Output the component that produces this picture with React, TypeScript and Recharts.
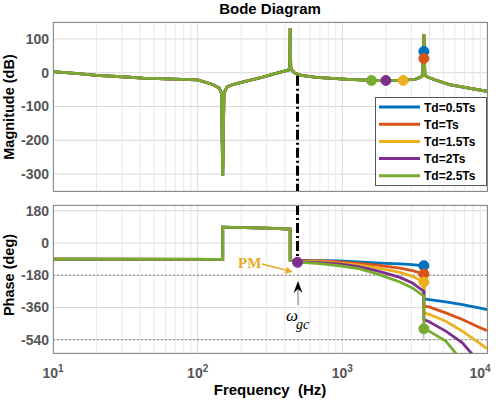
import { LineChart, Line, XAxis, YAxis, CartesianGrid, ReferenceLine, ReferenceDot } from 'recharts'

// series
const SERIES = ['Td=0.5Ts', 'Td=Ts', 'Td=1.5Ts', 'Td=2Ts', 'Td=2.5Ts']
const COLORS = ['#0072BD', '#D95319', '#EDB120', '#7E2F8E', '#77AC30']

// magnitude (same for every delay)
const magFreq = [10, 15, 20, 30, 42, 60, 100, 127, 141, 146, 149, 152, 160, 175, 217, 282, 368, 425, 433, 436, 440, 447, 470, 520, 660, 1100, 1590, 2000, 2630, 3200, 3450, 3600, 3660, 3720, 3850, 4300, 5500, 7500, 10000]
const magDb = [3, -3, -8, -12, -16, -18, -21, -35, -45, -60, -305, -60, -42, -35, -25, -13, 1, 8, 18, 132, 16, 8, -2, -8, -14, -20, -23, -23, -23, -19, -14, -8, 113, -8, -12, -20, -35, -46, -55]

// phase: shared part up to the crossover, then one tail per delay
const phaseFreqBase = [10, 149, 149, 300, 436, 436]
const phaseBase = [-90, -91, 88, 83, 78, -96]
const phaseFreqTail = [490, 700, 950, 1300, 1800, 2500, 3050, 3660, 3660, 3980, 5190, 6760, 8810, 10000]
const phaseTd05 = [-97, -98, -100, -106, -112, -117, -121, -127, -312, -316, -329, -344, -362, -372]
const phaseTd1 = [-99, -100, -106, -114, -125, -140, -154, -173, -353, -357, -390, -427, -470, -489]
const phaseTd15 = [-101, -104, -112, -123, -140, -164, -186, -218, -390, -398, -437, -492, -557, -589]
const phaseTd2 = [-104, -110, -117, -132, -158, -192, -223, -270, -427, -440, -492, -557, -665, -700]
const phaseTd25 = [-107, -115, -127, -143, -177, -218, -251, -297, -479, -492, -548, -660, -780, -840]

// markers (per series, in SERIES order)
const magMarkFreq = [3660, 3660, 2630, 2000, 1590]
const magMarkDb = [63, 42, -23, -23, -23]
const phaseMarkFreq = [3660, 3660, 3660, 490, 3660]
const phaseMarkDeg = [-127, -173, -218, -108, -479]

const wgc = 490

const freqTicks = [10, 100, 1000, 10000]
const minorFreqs = [20, 30, 40, 50, 60, 70, 80, 90, 200, 300, 400, 500, 600, 700, 800, 900, 2000, 3000, 4000, 5000, 6000, 7000, 8000, 9000]
const magTicks = [-300, -200, -100, 0, 100]
const phaseTicks = [-540, -360, -180, 0, 180]

const toPts = (fs: number[], vs: number[]) => fs.map((f, i) => ({ f, v: vs[i] }))
const magData = toPts(magFreq, magDb)
const phaseData = [phaseTd05, phaseTd1, phaseTd15, phaseTd2, phaseTd25].map((t) =>
  toPts([...phaseFreqBase, ...phaseFreqTail], [...phaseBase, ...t])
)

const FONT = '"Liberation Sans", Arial, sans-serif'
const SERIF = '"Liberation Serif", serif'
const tickStyle = { fill: '#555', fontWeight: 'bold', fontSize: 14, fontFamily: FONT }

const FreqTick = ({ x, y, payload }: any) => {
  const n = Math.round(Math.log10(payload.value))
  return (
    <text x={x} y={y + 25} textAnchor="middle" fill="#555" fontWeight="bold" fontSize={14} fontFamily={FONT}>
      <tspan>10</tspan>
      <tspan dy={-6} fontSize={10}>{n}</tspan>
    </text>
  )
}

export default function App() {
  return (
    <div style={{ position: 'absolute', left: 0, top: 0, width: 500, height: 400, background: '#fff', fontFamily: FONT }}>
      <div style={{ position: 'absolute', left: 0, top: 0 }}>
        <LineChart width={500} height={200} margin={{ top: 22, right: 13, bottom: 9, left: 8 }}>
          <CartesianGrid stroke="#d8d8d8" />
          {minorFreqs.map((f) => (
            <ReferenceLine key={f} x={f} stroke="#e8e8e8" />
          ))}
          <XAxis dataKey="f" type="number" scale="log" domain={[10, 10000]} ticks={freqTicks} allowDataOverflow hide />
          <YAxis
            type="number"
            domain={[-350, 150]}
            ticks={magTicks}
            allowDataOverflow
            width={45}
            axisLine={false}
            tickLine={false}
            tickSize={2}
            tickMargin={2}
            tick={tickStyle}
          />
          {SERIES.map((s, i) => (
            <Line key={s} data={magData} dataKey="v" stroke={COLORS[i]} strokeWidth={2.8} dot={false} isAnimationActive={false} />
          ))}
          <ReferenceLine
            segment={[{ x: wgc, y: -9 }, { x: wgc, y: -350 }]}
            stroke="#000"
            strokeWidth={3}
            strokeDasharray="10 3 2 3"
          />
          {SERIES.map((s, i) => (
            <ReferenceDot key={s} x={magMarkFreq[i]} y={magMarkDb[i]} r={5} fill={COLORS[i]} stroke={COLORS[i]} />
          ))}
        </LineChart>
      </div>
      <div style={{ position: 'absolute', left: 0, top: 195 }}>
        <LineChart width={500} height={205} margin={{ top: 10, right: 13, bottom: 0, left: 8 }}>
          <CartesianGrid stroke="#d8d8d8" />
          {minorFreqs.map((f) => (
            <ReferenceLine key={f} x={f} stroke="#e8e8e8" />
          ))}
          <ReferenceLine y={-180} stroke="#888" strokeDasharray="2 2" />
          <ReferenceLine y={-540} stroke="#888" strokeDasharray="2 2" />
          <XAxis
            dataKey="f"
            type="number"
            scale="log"
            domain={[10, 10000]}
            ticks={freqTicks}
            allowDataOverflow
            height={47}
            axisLine={false}
            tickLine={false}
            tickSize={0}
            tickMargin={0}
            tick={<FreqTick />}
          />
          <YAxis
            type="number"
            domain={[-614, 212]}
            ticks={phaseTicks}
            allowDataOverflow
            width={45}
            axisLine={false}
            tickLine={false}
            tickSize={2}
            tickMargin={2}
            tick={tickStyle}
          />
          {SERIES.map((s, i) => (
            <Line key={s} data={phaseData[i]} dataKey="v" stroke={COLORS[i]} strokeWidth={2.8} dot={false} isAnimationActive={false} />
          ))}
          <ReferenceLine
            segment={[{ x: wgc, y: 212 }, { x: wgc, y: -108 }]}
            stroke="#000"
            strokeWidth={3}
            strokeDasharray="10 3 2 3"
          />
          <ReferenceLine segment={[{ x: 3660, y: -479 }, { x: 3660, y: -540 }]} stroke="#999" />
          {SERIES.map((s, i) => (
            <ReferenceDot key={s} x={phaseMarkFreq[i]} y={phaseMarkDeg[i]} r={5} fill={COLORS[i]} stroke={COLORS[i]} />
          ))}
        </LineChart>
      </div>
      <svg width={500} height={400} style={{ position: 'absolute', left: 0, top: 0, pointerEvents: 'none' }}>
        <rect x={53.5} y={22.5} width={434} height={169} fill="none" stroke="#8a8a8a" />
        <rect x={53.5} y={205.5} width={434} height={148} fill="none" stroke="#8a8a8a" />
        <text x={270} y={14} textAnchor="middle" fontSize={15} fontWeight="bold" fontFamily={FONT}>
          Bode Diagram
        </text>
        <text transform="translate(14,107) rotate(-90)" textAnchor="middle" fontSize={14.5} fontWeight="bold" fontFamily={FONT}>
          Magnitude (dB)
        </text>
        <text transform="translate(14,275) rotate(-90)" textAnchor="middle" fontSize={14.5} fontWeight="bold" fontFamily={FONT}>
          Phase (deg)
        </text>
        <text x={270} y={395} textAnchor="middle" fontSize={15} fontWeight="bold" fontFamily={FONT} style={{ whiteSpace: 'pre' }}>
          {'Frequency  (Hz)'}
        </text>
        {/* legend */}
        <rect x={375.5} y={97.5} width={111} height={88} fill="#fff" stroke="#555" />
        {SERIES.map((s, i) => (
          <g key={s}>
            <line x1={379} x2={420} y1={107 + i * 17.2} y2={107 + i * 17.2} stroke={COLORS[i]} strokeWidth={3} />
            <text x={424} y={111.5 + i * 17.2} fontSize={12} fontWeight="bold" fontFamily={FONT}>
              {s}
            </text>
          </g>
        ))}
        {/* PM annotation */}
        <text x={238} y={268} fontSize={15} fontWeight="bold" fontFamily={SERIF} fill="#E8A828">
          PM
        </text>
        <line x1={262} y1={264} x2={287} y2={270.5} stroke="#E8A828" strokeWidth={1.5} />
        <polygon points="293,272 284.4,273.8 286.5,270 286.2,266.5" fill="#E8A828" />
        {/* wgc annotation */}
        <line x1={298} y1={288} x2={298} y2={305} stroke="#777" strokeWidth={1} />
        <polygon points="298,281 302.5,293 298,289 293.5,293" fill="#000" />
        <text x={286} y={321} fontSize={17} fontStyle="italic" fontFamily={SERIF}>
          ω
        </text>
        <text x={296} y={329} fontSize={14} fontStyle="italic" fontFamily={SERIF}>
          gc
        </text>
      </svg>
    </div>
  )
}
